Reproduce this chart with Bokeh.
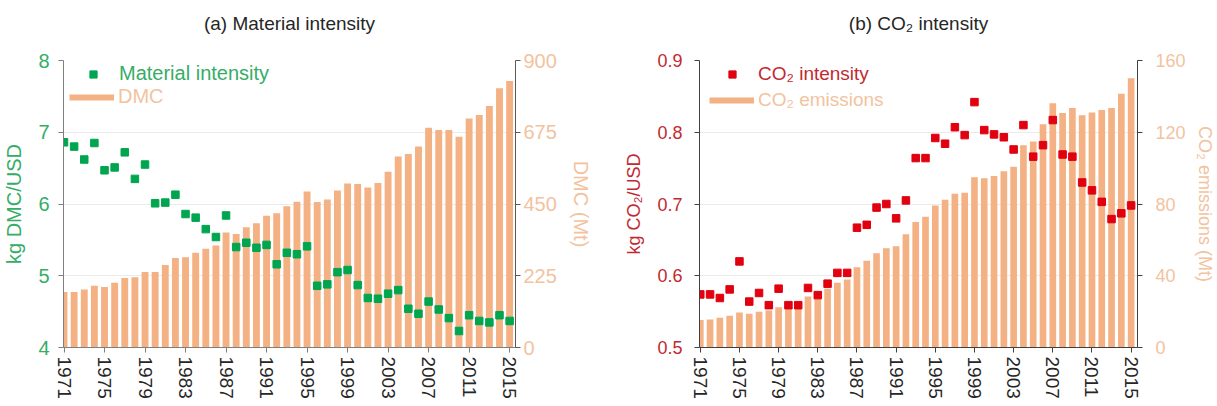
import math
from bokeh.plotting import figure
from bokeh.models import Range1d, LinearAxis, FixedTicker, Legend, LegendItem
from bokeh.layouts import row
from bokeh.embed import file_html
from bokeh.resources import INLINE

# ---------------- data ----------------
years = list(range(1971, 2016))
year_ticks = list(range(1971, 2016, 4))

dmc_mt = [174, 174, 182, 194, 190, 203, 218, 220, 237, 237,
          259, 281, 283, 297, 310, 320, 361, 356, 377, 390,
          413, 421, 443, 457, 489, 456, 464, 492, 514, 513,
          502, 516, 551, 599, 607, 630, 689, 682, 682, 661,
          718, 729, 757, 813, 836]

material_intensity = [6.86, 6.80, 6.62, 6.85, 6.47, 6.51, 6.72, 6.35, 6.55, 6.01,
                      6.02, 6.13, 5.86, 5.81, 5.65, 5.54, 5.84, 5.40, 5.46, 5.39,
                      5.43, 5.16, 5.32, 5.30, 5.41, 4.86, 4.88, 5.05, 5.08, 4.87,
                      4.69, 4.68, 4.75, 4.80, 4.54, 4.47, 4.64, 4.53, 4.41, 4.23,
                      4.45, 4.37, 4.35, 4.45, 4.37]

co2_mt = [15.3, 15.6, 16.6, 17.7, 19.5, 18.8, 19.9, 20.6, 22.5, 24.2,
          24.6, 28.5, 30.0, 32.7, 36.1, 37.9, 44.8, 48.4, 52.6, 55.4,
          56.5, 63.1, 70.0, 72.9, 79.2, 82.4, 85.7, 86.3, 94.9, 94.3,
          95.6, 98.2, 100.8, 112.7, 114.8, 124.4, 136.2, 130.8, 133.5, 129.5,
          131.0, 132.4, 133.5, 141.5, 150.1]

co2_intensity = [0.574, 0.574, 0.569, 0.581, 0.620, 0.564, 0.576, 0.559, 0.582, 0.559,
                 0.559, 0.583, 0.573, 0.589, 0.604, 0.604, 0.667, 0.671, 0.695, 0.700,
                 0.680, 0.705, 0.764, 0.764, 0.792, 0.784, 0.807, 0.796, 0.842, 0.803,
                 0.797, 0.793, 0.776, 0.810, 0.766, 0.782, 0.817, 0.769, 0.766, 0.730,
                 0.719, 0.703, 0.679, 0.687, 0.698]

left_ticks_a = [4, 5, 6, 7, 8]
right_ticks_a = [0, 225, 450, 675, 900]
left_ticks_b = [0.5, 0.6, 0.7, 0.8, 0.9]
right_ticks_b = [0, 40, 80, 120, 160]

# ---------------- style ----------------
BAR = "#F4B183"
PEACH_TEXT = "#F2C3A0"
GREEN_MARK = "#00A550"
GREEN_TEXT = "#35AD66"
RED_MARK = "#E0000F"
RED_TEXT = "#C22A30"
FONT = "Liberation Sans"


def style_axis(ax, line_color, text_color, tick_size, tick_standoff,
               label=None, label_color=None, label_size=None, label_standoff=None):
    ax.axis_line_color = line_color
    ax.major_tick_line_color = line_color
    ax.minor_tick_line_color = None
    ax.major_tick_in = 0
    ax.major_tick_out = 5
    ax.major_label_text_color = text_color
    ax.major_label_text_font = FONT
    ax.major_label_text_font_size = tick_size
    ax.major_label_standoff = tick_standoff
    if label is not None:
        ax.axis_label = label
        ax.axis_label_text_color = label_color
        ax.axis_label_text_font = FONT
        ax.axis_label_text_font_size = label_size
        ax.axis_label_text_font_style = "normal"
        ax.axis_label_standoff = label_standoff


def make_panel(cfg, bars, points, left_ticks, right_ticks):
    p = figure(width=cfg["w"], height=406,
               x_range=Range1d(*cfg["xr"]), y_range=Range1d(*cfg["yr"]),
               output_backend="svg", toolbar_location=None,
               min_border_left=cfg["bl"], min_border_right=cfg["br"],
               min_border_top=60, min_border_bottom=59)
    p.outline_line_color = None
    p.background_fill_color = "white"
    p.extra_y_ranges = {"right": Range1d(*cfg["yr2"])}

    p.vbar(x=years, top=bars, bottom=0, width=0.68, y_range_name="right",
           fill_color=BAR, line_color=None)
    r_pts = p.scatter(x=years, y=points, marker="square", size=7.5,
                      fill_color=cfg["mark"], line_color=cfg["mark"])
    # legend proxy (draws nothing in the plot area)
    r_leg = p.line(x=[years[0]], y=[float("nan")], line_color=BAR, line_width=6)

    # a blank second line lifts the title towards the top of the page
    p.title.text = cfg["title"] + "\n\u00a0"
    p.title.align = "center"
    p.title.standoff = 12
    p.title.text_font = FONT
    p.title.text_font_size = "19px"
    p.title.text_font_style = "normal"
    p.title.text_color = "#262626"

    p.xgrid.visible = False
    p.ygrid.grid_line_color = "#EBEBEB"

    xa = p.xaxis[0]
    style_axis(xa, cfg["axl"], "#262626", "19px", 4)
    xa.ticker = FixedTicker(ticks=year_ticks)
    xa.major_label_orientation = "vertical"

    ya = p.yaxis[0]
    style_axis(ya, cfg["axl"], cfg["text"], cfg["tick"], cfg["ls"],
               cfg["llabel"], cfg["text"], cfg["lab"], 10)
    ya.ticker = FixedTicker(ticks=left_ticks)

    ra = LinearAxis(y_range_name="right")
    style_axis(ra, cfg["axr"], PEACH_TEXT, cfg["tick"], cfg["rs"],
               cfg["rlabel"], PEACH_TEXT, cfg["lab"], cfg["rls"])
    ra.ticker = FixedTicker(ticks=right_ticks)
    p.add_layout(ra, "right")

    common = dict(background_fill_alpha=0, border_line_color=None, padding=0,
                  margin=0, spacing=0, label_text_font=FONT,
                  label_text_font_size=cfg["leg"], label_height=20)
    leg1 = Legend(items=[LegendItem(label=cfg["pt_label"], renderers=[r_pts])],
                  location=(cfg["l1x"], 262), glyph_width=18, glyph_height=18,
                  label_standoff=17, label_text_color=cfg["text"], **common)
    leg2 = Legend(items=[LegendItem(label=cfg["bar_label"], renderers=[r_leg])],
                  location=(cfg["l2x"], cfg["l2y"]), glyph_width=45, glyph_height=20,
                  label_standoff=4, label_text_color=PEACH_TEXT, **common)
    p.add_layout(leg1)
    p.add_layout(leg2)
    return p


cfg_a = dict(title="(a) Material intensity", w=600, bl=62, br=85,
             xr=(1970.95, 2015.58), yr=(4, 8), yr2=(0, 900),
             mark=GREEN_MARK, text=GREEN_TEXT, axl="#7F7F7F", axr="#595959",
             tick="20px", lab="20px", leg="20px", ls=9, rs=3, rls=10,
             llabel="kg DMC/USD", rlabel="DMC (Mt)",
             pt_label="Material intensity", bar_label="DMC",
             l1x=21, l2x=6, l2y=239)

cfg_b = dict(title="(b) CO\u2082 intensity", w=617, bl=99, br=79,
             xr=(1970.92, 2015.65), yr=(0.5, 0.9), yr2=(0, 160),
             mark=RED_MARK, text=RED_TEXT, axl="#404040", axr="#404040",
             tick="18px", lab="18px", leg="19px", ls=12, rs=13, rls=6,
             llabel="kg CO\u2082/USD", rlabel="CO\u2082 emissions (Mt)",
             pt_label="CO\u2082 intensity", bar_label="CO\u2082 emissions",
             l1x=24, l2x=10, l2y=236)

p1 = make_panel(cfg_a, dmc_mt, material_intensity, left_ticks_a, right_ticks_a)
p2 = make_panel(cfg_b, co2_mt, co2_intensity, left_ticks_b, right_ticks_b)

layout = row(p1, p2)
open("out.html", "w").write(file_html(layout, INLINE))
